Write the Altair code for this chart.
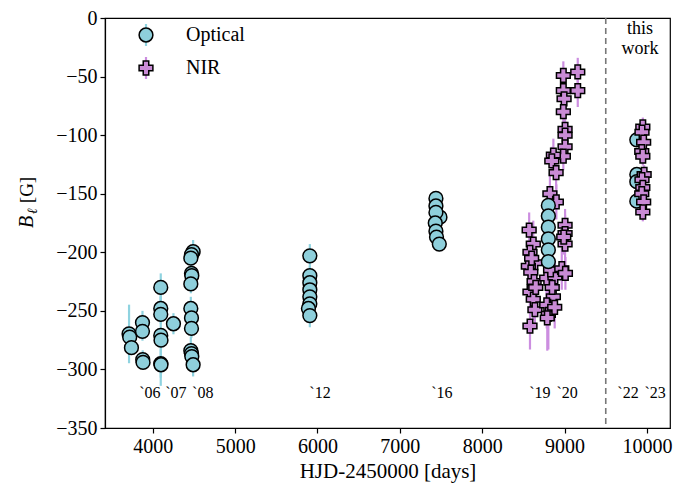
import altair as alt
import pandas as pd

# ---------------- data ----------------
# Optical, literature + this work
opt_x = [3712, 3720, 3741, 3875, 3875, 3878, 3882,
         4097, 4097, 4097, 4097, 4100, 4097, 4100, 4251,
         4490, 4470, 4462, 4470, 4474, 4462, 4462, 4470, 4470, 4462, 4470, 4474, 4490,
         5907, 5907, 5907, 5907, 5907, 5907, 5890, 5907,
         7438, 7438, 7487, 7438, 7430, 7438, 7445, 7479,
         8803, 8803, 8803, 8803, 8803, 8803,
         9877, 9877, 9877, 9877]
opt_y = [-269.7, -272.5, -281.4, -260, -267.5, -291.7, -294,
         -230, -248, -253, -271, -275, -295, -296, -261,
         -199.5, -202, -205, -218, -220, -227, -248, -256, -265, -284, -286.5, -289, -296,
         -203, -220, -226, -232, -238, -244, -248, -254,
         -154, -160.5, -170, -166, -175, -182, -187, -193,
         -160, -169, -178.6, -188.6, -198, -208,
         -104, -133.6, -139.7, -156.4]
opt_err = [25, 8, 6, 10, 8, 8, 6,
           12, 10, 8, 43, 8, 12, 8, 9,
           10, 8, 8, 8, 8, 8, 10, 8, 8, 12, 8, 8, 10,
           10, 8, 8, 8, 10, 8, 8, 10,
           6, 6, 6, 6, 6, 6, 6, 6,
           8, 8, 8, 8, 8, 8,
           6, 6, 6, 6]

# NIR, literature (2019-2020) + this work
nir_x = [8570, 8620, 8580, 8640, 8560, 8590, 8630, 8580, 8620, 8640, 8580, 8600, 8650,
         8822, 8900, 8783, 8883, 8864, 8783, 8803, 8790, 8850, 8880, 8830,
         9006, 9006, 9006, 8966, 9010, 8990,
         8985, 9160, 8985, 9160, 8994, 8985, 9006, 9006, 9006, 8985, 8864, 8845, 8897,
         9950, 9940, 9960, 9937, 9950, 9966, 9940, 9950, 9937, 9960, 9950]
nir_y = [-181, -193, -200, -209, -212, -217, -225, -234, -240, -249, -263, -205, -230,
         -150, -157, -222, -221, -238, -245, -253, -256, -230, -247, -215,
         -177, -184, -193, -214, -218, -187,
         -49, -46, -62, -62, -69, -80, -95, -100, -110, -118, -117, -122, -132,
         -93, -97.5, -106, -114, -118, -133.6, -138, -144.7, -150, -157, -165.6]
nir_err = [15, 20, 15, 18, 22, 15, 14, 15, 18, 16, 20, 14, 15,
           18, 15, 15, 14, 15, 20, 30, 28, 15, 18, 15,
           14, 16, 15, 18, 14, 15,
           12, 12, 14, 14, 12, 12, 12, 12, 12, 12, 14, 12, 14,
           8, 8, 8, 8, 8, 8, 8, 8, 8, 8, 8]

# separator between literature and this work
SEP = 9500

year_x = [3964, 4280, 4607, 6030, 7510, 8700, 9030, 9770, 10100]
year_lbl = ["`06", "`07", "`08", "`12", "`16", "`19", "`20", "`22", "`23"]
year_y = -320

types = ["Optical", "NIR"]
shapes = ["circle", "cross"]
fills = ["#8ecfdb", "#c98bd5"]
bar_cols = ["#8fd3e0", "#cc8ee0"]

# ---------------- build table ----------------
opt = pd.DataFrame({"x": opt_x, "y": opt_y, "err": opt_err, "type": "Optical"})
nir = pd.DataFrame({"x": nir_x, "y": nir_y, "err": nir_err, "type": "NIR"})
old = pd.concat([nir[nir.x < SEP], opt[opt.x < SEP]])
new = pd.concat([opt[opt.x >= SEP], nir[nir.x >= SEP]])
df = pd.concat([old, new]).reset_index(drop=True)
df["order"] = range(len(df))
df["lo"] = df["y"] - df["err"]
df["hi"] = df["y"] + df["err"]

FONT = "Liberation Serif"
xscale = alt.Scale(domain=[3420, 10280], nice=False, zero=False)
yscale = alt.Scale(domain=[-350, 0], nice=False, zero=False)
fill_scale = alt.Scale(domain=types, range=fills)
bar_scale = alt.Scale(domain=types, range=bar_cols)
shape_scale = alt.Scale(domain=types, range=shapes)

xax = alt.Axis(values=list(range(4000, 10001, 1000)), format="d", title="HJD-2450000 [days]",
               grid=False, tickSize=5, labelPadding=3, titlePadding=4,
               labelFont=FONT, labelFontSize=20, titleFont=FONT, titleFontSize=21)
yax = alt.Axis(values=list(range(-350, 1, 50)), title=None, grid=False, tickSize=5, labelPadding=3,
               labelFont=FONT, labelFontSize=20)

base = alt.Chart(df)

bars = base.mark_rule(strokeWidth=2.2).encode(
    x=alt.X("x:Q", scale=xscale, axis=xax),
    y=alt.Y("lo:Q", scale=yscale, axis=yax),
    y2="hi:Q",
    stroke=alt.Stroke("type:N", scale=bar_scale, legend=None),
)

points = base.mark_point(filled=True, stroke="black", strokeWidth=1.5, opacity=1, size=190).encode(
    x=alt.X("x:Q", scale=xscale),
    y=alt.Y("y:Q", scale=yscale),
    fill=alt.Fill("type:N", scale=fill_scale, legend=None),
    shape=alt.Shape("type:N", scale=shape_scale, legend=None),
    order=alt.Order("order:Q"),
)

sep = alt.Chart(pd.DataFrame({"x": [SEP]})).mark_rule(
    color="#777777", strokeWidth=1.6, strokeDash=[6, 4]
).encode(x=alt.X("x:Q", scale=xscale))

years = alt.Chart(pd.DataFrame({"x": year_x, "lbl": year_lbl, "y": [year_y] * len(year_x)})).mark_text(
    font=FONT, fontSize=16, color="black"
).encode(x=alt.X("x:Q", scale=xscale), y=alt.Y("y:Q", scale=yscale), text="lbl:N")

thiswork = alt.Chart(pd.DataFrame({"x": [9915], "y": [-9], "t": [["this", "work"]]})).mark_text(
    font=FONT, fontSize=18, color="black", lineHeight=20
).encode(x=alt.X("x:Q", scale=xscale), y=alt.Y("y:Q", scale=yscale), text="t")

# ---------------- legend (drawn by hand: marker with an error bar through it) ----------------
leg_layers = []
for i, t in enumerate(types):
    yc = 17 + 33 * i
    one = alt.Chart(pd.DataFrame({"type": [t]}))
    leg_layers.append(one.mark_rule(strokeWidth=2.2).encode(
        x=alt.value(41), y=alt.value(yc - 11), y2=alt.value(yc + 11),
        stroke=alt.Stroke("type:N", scale=bar_scale, legend=None)))
    leg_layers.append(one.mark_point(filled=True, stroke="black", strokeWidth=1.5, opacity=1,
                                     size=190).encode(
        x=alt.value(41), y=alt.value(yc),
        fill=alt.Fill("type:N", scale=fill_scale, legend=None),
        shape=alt.Shape("type:N", scale=shape_scale, legend=None)))
    leg_layers.append(one.mark_text(font=FONT, fontSize=20, color="black", align="left",
                                    baseline="middle").encode(
        x=alt.value(81), y=alt.value(yc), text="type:N"))

# y-axis title: italic B with subscript ell, then [G]
ylab = alt.Chart(pd.DataFrame({"a": [0]}))
yB = ylab.mark_text(font=FONT, fontSize=20, fontStyle="italic", angle=270, color="black").encode(
    x=alt.value(-78), y=alt.value(204), text=alt.value("B"))
yl = ylab.mark_text(font=FONT, fontSize=14, fontStyle="italic", angle=270, color="black").encode(
    x=alt.value(-72), y=alt.value(193), text=alt.value("ℓ"))
yG = ylab.mark_text(font=FONT, fontSize=19, angle=270, color="black").encode(
    x=alt.value(-78), y=alt.value(172), text=alt.value("[G]"))

chart = alt.layer(sep, bars, points, years, thiswork, *leg_layers, yB, yl, yG).properties(
    width=565, height=410,
    autosize=alt.AutoSizeParams(type="none"),
    padding={"left": 97, "top": 10, "right": 18, "bottom": 56},
).configure_view(
    stroke="black", strokeWidth=1.2
).configure_axis(
    labelFont=FONT, labelColor="black",
    titleFont=FONT, titleFontWeight="normal", titleColor="black",
    domainColor="black", tickColor="black", domainWidth=1.2, tickWidth=1.2,
)

chart.save("out.html", embed_options={"renderer": "svg", "actions": False})
